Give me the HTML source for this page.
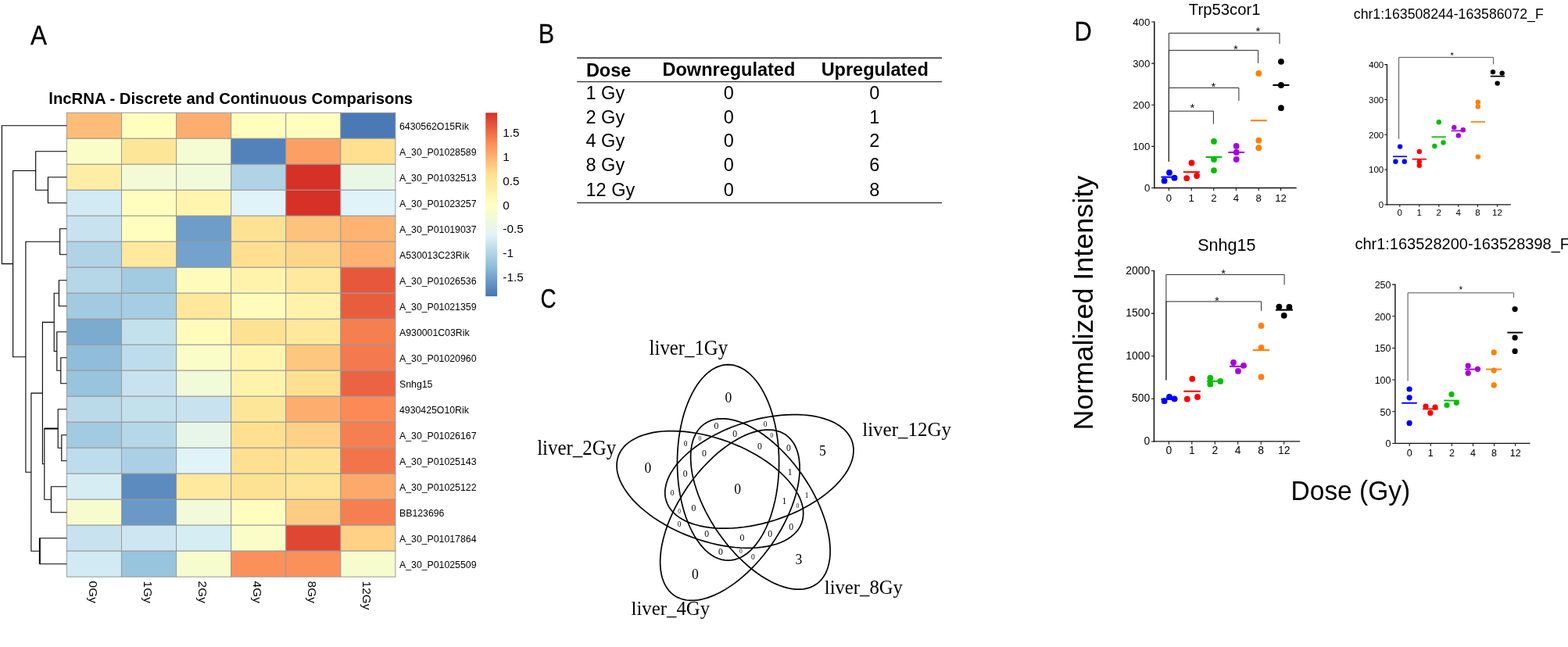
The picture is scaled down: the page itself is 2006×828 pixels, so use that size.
<!DOCTYPE html>
<html lang="en"><head><meta charset="utf-8"><title>lncRNA dose response figure</title>
<style>html,body{margin:0;padding:0;background:#fff;}body{width:2006px;height:828px;overflow:hidden;}svg{display:block;}text{fill:#000;}</style>
</head><body>
<svg width="2006" height="828" viewBox="0 0 2006 828">
<rect x="0" y="0" width="2006" height="828" fill="#ffffff"/>
<g id="panelA">
<text transform="translate(39.0,56.6) scale(0.91,1)" font-family='"Liberation Sans", Arial, Helvetica, sans-serif' font-size="34.6" stroke="#000" stroke-width="0.3" vector-effect="non-scaling-stroke">A</text>
<text x="295.2" y="132.7" text-anchor="middle" font-family='"Liberation Sans", Arial, Helvetica, sans-serif' font-weight="bold" font-size="20.3">lncRNA - Discrete and Continuous Comparisons</text>
<g stroke="#999999" stroke-width="1" shape-rendering="auto">
<rect x="85.40" y="144.30" width="70.08" height="32.99" fill="#fdbd79"/>
<rect x="155.48" y="144.30" width="70.08" height="32.99" fill="#fffebe"/>
<rect x="225.57" y="144.30" width="70.08" height="32.99" fill="#fdae6f"/>
<rect x="295.65" y="144.30" width="70.08" height="32.99" fill="#fffebe"/>
<rect x="365.73" y="144.30" width="70.08" height="32.99" fill="#fffebe"/>
<rect x="435.82" y="144.30" width="70.08" height="32.99" fill="#4a79b6"/>
<rect x="85.40" y="177.29" width="70.08" height="32.99" fill="#fafdc8"/>
<rect x="155.48" y="177.29" width="70.08" height="32.99" fill="#fee699"/>
<rect x="225.57" y="177.29" width="70.08" height="32.99" fill="#f5fbd2"/>
<rect x="295.65" y="177.29" width="70.08" height="32.99" fill="#5382bb"/>
<rect x="365.73" y="177.29" width="70.08" height="32.99" fill="#fc9f65"/>
<rect x="435.82" y="177.29" width="70.08" height="32.99" fill="#fee090"/>
<rect x="85.40" y="210.29" width="70.08" height="32.99" fill="#feeda4"/>
<rect x="155.48" y="210.29" width="70.08" height="32.99" fill="#f3fad5"/>
<rect x="225.57" y="210.29" width="70.08" height="32.99" fill="#f1fad9"/>
<rect x="295.65" y="210.29" width="70.08" height="32.99" fill="#b0d3e6"/>
<rect x="365.73" y="210.29" width="70.08" height="32.99" fill="#d73027"/>
<rect x="435.82" y="210.29" width="70.08" height="32.99" fill="#e9f7e7"/>
<rect x="85.40" y="243.28" width="70.08" height="32.99" fill="#d2eaf3"/>
<rect x="155.48" y="243.28" width="70.08" height="32.99" fill="#fffebe"/>
<rect x="225.57" y="243.28" width="70.08" height="32.99" fill="#fff5af"/>
<rect x="295.65" y="243.28" width="70.08" height="32.99" fill="#e0f3f8"/>
<rect x="365.73" y="243.28" width="70.08" height="32.99" fill="#d73027"/>
<rect x="435.82" y="243.28" width="70.08" height="32.99" fill="#e0f3f8"/>
<rect x="85.40" y="276.28" width="70.08" height="32.99" fill="#c8e3ef"/>
<rect x="155.48" y="276.28" width="70.08" height="32.99" fill="#fffebe"/>
<rect x="225.57" y="276.28" width="70.08" height="32.99" fill="#6e9dc9"/>
<rect x="295.65" y="276.28" width="70.08" height="32.99" fill="#fee293"/>
<rect x="365.73" y="276.28" width="70.08" height="32.99" fill="#fdc27c"/>
<rect x="435.82" y="276.28" width="70.08" height="32.99" fill="#fdb372"/>
<rect x="85.40" y="309.27" width="70.08" height="32.99" fill="#b0d3e6"/>
<rect x="155.48" y="309.27" width="70.08" height="32.99" fill="#fee99e"/>
<rect x="225.57" y="309.27" width="70.08" height="32.99" fill="#73a2cc"/>
<rect x="295.65" y="309.27" width="70.08" height="32.99" fill="#fee090"/>
<rect x="365.73" y="309.27" width="70.08" height="32.99" fill="#fed689"/>
<rect x="435.82" y="309.27" width="70.08" height="32.99" fill="#fdb372"/>
<rect x="85.40" y="342.27" width="70.08" height="32.99" fill="#b5d7e8"/>
<rect x="155.48" y="342.27" width="70.08" height="32.99" fill="#a2cae1"/>
<rect x="225.57" y="342.27" width="70.08" height="32.99" fill="#fffcbb"/>
<rect x="295.65" y="342.27" width="70.08" height="32.99" fill="#fff3ac"/>
<rect x="365.73" y="342.27" width="70.08" height="32.99" fill="#fee99e"/>
<rect x="435.82" y="342.27" width="70.08" height="32.99" fill="#e7573c"/>
<rect x="85.40" y="375.26" width="70.08" height="32.99" fill="#a2cae1"/>
<rect x="155.48" y="375.26" width="70.08" height="32.99" fill="#a7cde3"/>
<rect x="225.57" y="375.26" width="70.08" height="32.99" fill="#fee89b"/>
<rect x="295.65" y="375.26" width="70.08" height="32.99" fill="#fffcbb"/>
<rect x="365.73" y="375.26" width="70.08" height="32.99" fill="#fff3ac"/>
<rect x="435.82" y="375.26" width="70.08" height="32.99" fill="#e95d3f"/>
<rect x="85.40" y="408.26" width="70.08" height="32.99" fill="#7cabd0"/>
<rect x="155.48" y="408.26" width="70.08" height="32.99" fill="#c3e0ed"/>
<rect x="225.57" y="408.26" width="70.08" height="32.99" fill="#fffcbb"/>
<rect x="295.65" y="408.26" width="70.08" height="32.99" fill="#fee293"/>
<rect x="365.73" y="408.26" width="70.08" height="32.99" fill="#fee89b"/>
<rect x="435.82" y="408.26" width="70.08" height="32.99" fill="#f67f51"/>
<rect x="85.40" y="441.25" width="70.08" height="32.99" fill="#8fbdda"/>
<rect x="155.48" y="441.25" width="70.08" height="32.99" fill="#beddec"/>
<rect x="225.57" y="441.25" width="70.08" height="32.99" fill="#fafdc8"/>
<rect x="295.65" y="441.25" width="70.08" height="32.99" fill="#fff5af"/>
<rect x="365.73" y="441.25" width="70.08" height="32.99" fill="#fdc77f"/>
<rect x="435.82" y="441.25" width="70.08" height="32.99" fill="#f4794e"/>
<rect x="85.40" y="474.24" width="70.08" height="32.99" fill="#98c4de"/>
<rect x="155.48" y="474.24" width="70.08" height="32.99" fill="#c8e3ef"/>
<rect x="225.57" y="474.24" width="70.08" height="32.99" fill="#f1fad9"/>
<rect x="295.65" y="474.24" width="70.08" height="32.99" fill="#fff3ac"/>
<rect x="365.73" y="474.24" width="70.08" height="32.99" fill="#fee090"/>
<rect x="435.82" y="474.24" width="70.08" height="32.99" fill="#eb6342"/>
<rect x="85.40" y="507.24" width="70.08" height="32.99" fill="#badaea"/>
<rect x="155.48" y="507.24" width="70.08" height="32.99" fill="#c3e0ed"/>
<rect x="225.57" y="507.24" width="70.08" height="32.99" fill="#c8e3ef"/>
<rect x="295.65" y="507.24" width="70.08" height="32.99" fill="#fee699"/>
<rect x="365.73" y="507.24" width="70.08" height="32.99" fill="#fdae6f"/>
<rect x="435.82" y="507.24" width="70.08" height="32.99" fill="#fb8a57"/>
<rect x="85.40" y="540.23" width="70.08" height="32.99" fill="#a2cae1"/>
<rect x="155.48" y="540.23" width="70.08" height="32.99" fill="#b5d7e8"/>
<rect x="225.57" y="540.23" width="70.08" height="32.99" fill="#e8f6ea"/>
<rect x="295.65" y="540.23" width="70.08" height="32.99" fill="#fee090"/>
<rect x="365.73" y="540.23" width="70.08" height="32.99" fill="#fed186"/>
<rect x="435.82" y="540.23" width="70.08" height="32.99" fill="#f67f51"/>
<rect x="85.40" y="573.23" width="70.08" height="32.99" fill="#beddec"/>
<rect x="155.48" y="573.23" width="70.08" height="32.99" fill="#abd0e5"/>
<rect x="225.57" y="573.23" width="70.08" height="32.99" fill="#e0f3f8"/>
<rect x="295.65" y="573.23" width="70.08" height="32.99" fill="#fee090"/>
<rect x="365.73" y="573.23" width="70.08" height="32.99" fill="#fee293"/>
<rect x="435.82" y="573.23" width="70.08" height="32.99" fill="#f2744b"/>
<rect x="85.40" y="606.22" width="70.08" height="32.99" fill="#d6edf4"/>
<rect x="155.48" y="606.22" width="70.08" height="32.99" fill="#5c8bc0"/>
<rect x="225.57" y="606.22" width="70.08" height="32.99" fill="#fee99e"/>
<rect x="295.65" y="606.22" width="70.08" height="32.99" fill="#fee293"/>
<rect x="365.73" y="606.22" width="70.08" height="32.99" fill="#fee496"/>
<rect x="435.82" y="606.22" width="70.08" height="32.99" fill="#fda96b"/>
<rect x="85.40" y="639.22" width="70.08" height="32.99" fill="#f7fccf"/>
<rect x="155.48" y="639.22" width="70.08" height="32.99" fill="#6a99c7"/>
<rect x="225.57" y="639.22" width="70.08" height="32.99" fill="#f1fad9"/>
<rect x="295.65" y="639.22" width="70.08" height="32.99" fill="#fffebe"/>
<rect x="365.73" y="639.22" width="70.08" height="32.99" fill="#fecc83"/>
<rect x="435.82" y="639.22" width="70.08" height="32.99" fill="#f67f51"/>
<rect x="85.40" y="672.21" width="70.08" height="32.99" fill="#c8e3ef"/>
<rect x="155.48" y="672.21" width="70.08" height="32.99" fill="#cde6f1"/>
<rect x="225.57" y="672.21" width="70.08" height="32.99" fill="#d6edf4"/>
<rect x="295.65" y="672.21" width="70.08" height="32.99" fill="#fafdc8"/>
<rect x="365.73" y="672.21" width="70.08" height="32.99" fill="#e04733"/>
<rect x="435.82" y="672.21" width="70.08" height="32.99" fill="#fed186"/>
<rect x="85.40" y="705.21" width="70.08" height="32.99" fill="#d2eaf3"/>
<rect x="155.48" y="705.21" width="70.08" height="32.99" fill="#98c4de"/>
<rect x="225.57" y="705.21" width="70.08" height="32.99" fill="#f7fccf"/>
<rect x="295.65" y="705.21" width="70.08" height="32.99" fill="#fc905b"/>
<rect x="365.73" y="705.21" width="70.08" height="32.99" fill="#fc905b"/>
<rect x="435.82" y="705.21" width="70.08" height="32.99" fill="#f7fccf"/>
</g>
<g font-family='"Liberation Sans", Arial, Helvetica, sans-serif' font-size="12.3" fill="#000">
<text x="511.0" y="166.00">6430562O15Rik</text>
<text x="511.0" y="198.99">A_30_P01028589</text>
<text x="511.0" y="231.99">A_30_P01032513</text>
<text x="511.0" y="264.98">A_30_P01023257</text>
<text x="511.0" y="297.98">A_30_P01019037</text>
<text x="511.0" y="330.97">A530013C23Rik</text>
<text x="511.0" y="363.96">A_30_P01026536</text>
<text x="511.0" y="396.96">A_30_P01021359</text>
<text x="511.0" y="429.95">A930001C03Rik</text>
<text x="511.0" y="462.95">A_30_P01020960</text>
<text x="511.0" y="495.94">Snhg15</text>
<text x="511.0" y="528.94">4930425O10Rik</text>
<text x="511.0" y="561.93">A_30_P01026167</text>
<text x="511.0" y="594.93">A_30_P01025143</text>
<text x="511.0" y="627.92">A_30_P01025122</text>
<text x="511.0" y="660.91">BB123696</text>
<text x="511.0" y="693.91">A_30_P01017864</text>
<text x="511.0" y="726.90">A_30_P01025509</text>
</g>
<g font-family='"Liberation Sans", Arial, Helvetica, sans-serif' font-size="15.4" fill="#000">
<text transform="translate(113.74,743.6) rotate(90)">0Gy</text>
<text transform="translate(183.83,743.6) rotate(90)">1Gy</text>
<text transform="translate(253.91,743.6) rotate(90)">2Gy</text>
<text transform="translate(323.99,743.6) rotate(90)">4Gy</text>
<text transform="translate(394.07,743.6) rotate(90)">8Gy</text>
<text transform="translate(464.16,743.6) rotate(90)">12Gy</text>
</g>
<defs><linearGradient id="lg" x1="0" y1="0" x2="0" y2="1">
<stop offset="0.0000" stop-color="#D73027"/>
<stop offset="0.1667" stop-color="#FC8D59"/>
<stop offset="0.3333" stop-color="#FEE090"/>
<stop offset="0.5000" stop-color="#FFFFBF"/>
<stop offset="0.6667" stop-color="#E0F3F8"/>
<stop offset="0.8333" stop-color="#91BFDB"/>
<stop offset="1.0000" stop-color="#4575B4"/>
</linearGradient></defs>
<rect x="621.2" y="144.3" width="14.90" height="234.90" fill="url(#lg)"/>
<g font-family='"Liberation Sans", Arial, Helvetica, sans-serif' font-size="15.3" fill="#000">
<text x="643.3" y="175.40">1.5</text>
<text x="643.3" y="206.15">1</text>
<text x="643.3" y="236.90">0.5</text>
<text x="643.3" y="267.65">0</text>
<text x="643.3" y="298.40">-0.5</text>
<text x="643.3" y="329.15">-1</text>
<text x="643.3" y="359.90">-1.5</text>
</g>
<path d="M85.4 226.8H61.4V259.8H85.4M85.4 193.8H45.7V243.3H61.4M85.4 292.8H76.6V325.8H85.4M85.4 358.8H75.4V391.8H85.4M85.4 457.7H77.8V490.7H85.4M85.4 424.8H72.8V474.2H77.8M75.4 375.3H69.2V449.5H72.8M85.4 556.7H78.8V589.7H85.4M85.4 523.7H74.2V573.2H78.8M85.4 622.7H65.4V655.7H85.4M74.2 548.5H56.8V639.2H65.4M69.2 412.4H54.4V593.8H56.8M85.4 688.7H50.8V721.7H85.4M54.4 503.1H39.9V705.2H50.8M76.6 309.3H32.9V604.2H39.9M45.7 218.5H16.6V456.7H32.9M85.4 160.8H2.4V337.6H16.6" fill="none" stroke="#000" stroke-width="1.1"/>
<path d="M56.8 548.5H74.2M50.8 688.7V721.7" fill="none" stroke="#000" stroke-width="1.9"/>
</g>
<g id="panelB">
<text transform="translate(688.8,54.9) scale(0.88,1)" font-family='"Liberation Sans", Arial, Helvetica, sans-serif' font-size="34.6" stroke="#000" stroke-width="0.3" vector-effect="non-scaling-stroke">B</text>
<g stroke="#000" fill="none">
<line x1="738.1" y1="74.1" x2="1205" y2="74.1" stroke-width="1.3"/>
<line x1="738.1" y1="104.7" x2="1205" y2="104.7" stroke-width="1"/>
<line x1="738.1" y1="259.6" x2="1205" y2="259.6" stroke-width="1"/>
</g>
<g font-family='"Liberation Sans", Arial, Helvetica, sans-serif' font-size="23.5" font-weight="bold">
<text x="749.9" y="97.6">Dose</text>
<text x="932.4" y="97.2" text-anchor="middle">Downregulated</text>
<text x="1119.2" y="97.2" text-anchor="middle">Upregulated</text>
</g>
<g font-family='"Liberation Sans", Arial, Helvetica, sans-serif' font-size="23.5">
<text x="749.5" y="126.8">1 Gy</text>
<text x="932.2" y="126.8" text-anchor="middle">0</text>
<text x="1118.8" y="126.8" text-anchor="middle">0</text>
<text x="749.5" y="157.7">2 Gy</text>
<text x="932.2" y="157.7" text-anchor="middle">0</text>
<text x="1118.8" y="157.7" text-anchor="middle">1</text>
<text x="749.5" y="187.7">4 Gy</text>
<text x="932.2" y="187.7" text-anchor="middle">0</text>
<text x="1118.8" y="187.7" text-anchor="middle">2</text>
<text x="749.5" y="218.7">8 Gy</text>
<text x="932.2" y="218.7" text-anchor="middle">0</text>
<text x="1118.8" y="218.7" text-anchor="middle">6</text>
<text x="749.5" y="250.6">12 Gy</text>
<text x="932.2" y="250.6" text-anchor="middle">0</text>
<text x="1118.8" y="250.6" text-anchor="middle">8</text>
</g></g>
<g id="panelC">
<text transform="translate(691.4,394.0) scale(0.8,1)" font-family='"Liberation Sans", Arial, Helvetica, sans-serif' font-size="34.6" stroke="#000" stroke-width="0.3" vector-effect="non-scaling-stroke">C</text>
<g fill="none" stroke="#000" stroke-width="1.7" stroke-linejoin="round">
<polygon points="996.6,591.9 996.5,583.7 996.1,575.6 995.4,567.5 994.4,559.5 993.2,551.7 991.7,544.0 989.9,536.5 987.9,529.3 985.7,522.3 983.2,515.7 980.5,509.3 977.6,503.4 974.5,497.8 971.2,492.6 967.7,487.8 964.1,483.5 960.3,479.6 956.5,476.2 952.5,473.3 948.4,470.9 944.2,469.1 940.0,467.7 935.8,466.9 931.5,466.7 927.3,466.9 923.0,467.7 918.8,469.1 914.7,470.9 910.6,473.3 906.6,476.2 902.7,479.6 899.0,483.5 895.4,487.8 891.9,492.6 888.6,497.8 885.5,503.4 882.6,509.3 879.9,515.7 877.4,522.3 875.1,529.3 873.1,536.5 871.4,544.0 869.9,551.7 868.6,559.5 867.7,567.5 867.0,575.6 866.6,583.7 866.4,591.9 866.6,600.1 867.0,608.3 867.7,616.4 868.6,624.4 869.9,632.2 871.4,639.9 873.1,647.3 875.1,654.6 877.4,661.5 879.9,668.2 882.6,674.5 885.5,680.5 888.6,686.1 891.9,691.3 895.4,696.1 899.0,700.4 902.7,704.3 906.6,707.7 910.6,710.5 914.7,712.9 918.8,714.8 923.0,716.1 927.3,716.9 931.5,717.2 935.8,716.9 940.0,716.1 944.2,714.8 948.4,712.9 952.5,710.5 956.5,707.7 960.3,704.3 964.1,700.4 967.7,696.1 971.2,691.3 974.5,686.1 977.6,680.5 980.5,674.5 983.2,668.2 985.7,661.5 987.9,654.6 989.9,647.3 991.7,639.9 993.2,632.2 994.4,624.4 995.4,616.4 996.1,608.3 996.5,600.1"/>
<polygon points="886.1,687.8 893.8,690.5 901.6,692.9 909.4,695.0 917.2,696.8 925.0,698.4 932.7,699.6 940.2,700.5 947.7,701.0 955.0,701.3 962.1,701.2 968.9,700.9 975.5,700.2 981.8,699.1 987.8,697.8 993.5,696.2 998.8,694.2 1003.7,692.0 1008.2,689.5 1012.2,686.7 1015.9,683.7 1019.0,680.4 1021.7,676.9 1023.9,673.2 1025.6,669.3 1026.8,665.2 1027.5,660.9 1027.7,656.5 1027.4,651.9 1026.6,647.3 1025.2,642.5 1023.4,637.7 1021.0,632.8 1018.2,627.9 1014.9,623.0 1011.2,618.2 1007.0,613.3 1002.4,608.5 997.4,603.8 992.0,599.2 986.3,594.7 980.2,590.3 973.8,586.1 967.1,582.1 960.2,578.2 953.1,574.6 945.7,571.1 938.2,568.0 930.6,565.0 922.9,562.4 915.1,560.0 907.3,557.8 899.5,556.0 891.7,554.5 884.0,553.3 876.5,552.4 869.0,551.8 861.7,551.6 854.6,551.6 847.8,552.0 841.2,552.7 834.9,553.7 828.9,555.1 823.2,556.7 817.9,558.6 813.0,560.9 808.5,563.4 804.5,566.1 800.8,569.2 797.7,572.4 795.0,575.9 792.8,579.7 791.1,583.6 789.9,587.7 789.2,592.0 789.0,596.4 789.3,600.9 790.1,605.6 791.5,610.4 793.3,615.2 795.7,620.0 798.5,624.9 801.8,629.8 805.5,634.7 809.7,639.6 814.3,644.4 819.3,649.1 824.7,653.7 830.4,658.2 836.5,662.6 842.9,666.8 849.6,670.8 856.5,674.7 863.6,678.3 871.0,681.7 878.5,684.9"/>
<polygon points="880.5,621.7 876.0,628.5 871.7,635.5 867.6,642.5 863.8,649.6 860.4,656.7 857.2,663.9 854.4,671.0 851.9,678.1 849.8,685.1 848.0,692.0 846.6,698.7 845.5,705.3 844.9,711.7 844.6,717.8 844.7,723.7 845.2,729.3 846.1,734.7 847.3,739.7 849.0,744.3 850.9,748.6 853.3,752.5 855.9,756.1 859.0,759.2 862.3,761.8 865.9,764.1 869.9,765.8 874.1,767.2 878.5,768.0 883.2,768.4 888.2,768.4 893.3,767.8 898.6,766.8 904.0,765.4 909.6,763.4 915.2,761.1 921.0,758.3 926.8,755.1 932.6,751.4 938.5,747.4 944.3,743.0 950.1,738.2 955.8,733.1 961.4,727.7 966.9,722.0 972.2,716.0 977.4,709.8 982.4,703.3 987.2,696.7 991.8,689.9 996.1,683.0 1000.2,676.0 1003.9,668.9 1007.4,661.7 1010.5,654.6 1013.4,647.5 1015.9,640.4 1018.0,633.4 1019.8,626.5 1021.2,619.8 1022.2,613.2 1022.9,606.8 1023.1,600.6 1023.0,594.7 1022.5,589.1 1021.7,583.8 1020.4,578.8 1018.8,574.1 1016.8,569.8 1014.5,565.9 1011.8,562.4 1008.8,559.3 1005.5,556.6 1001.8,554.4 997.9,552.6 993.7,551.3 989.2,550.4 984.5,550.0 979.6,550.1 974.5,550.6 969.2,551.6 963.8,553.1 958.2,555.0 952.5,557.4 946.8,560.2 941.0,563.4 935.1,567.0 929.3,571.1 923.5,575.5 917.7,580.2 912.0,585.3 906.4,590.8 900.9,596.5 895.5,602.4 890.3,608.7 885.3,615.1"/>
<polygon points="1026.2,607.5 1021.4,600.9 1016.4,594.4 1011.2,588.2 1005.8,582.2 1000.3,576.5 994.7,571.1 989.0,566.0 983.2,561.2 977.4,556.8 971.6,552.8 965.7,549.2 959.9,545.9 954.2,543.1 948.5,540.8 943.0,538.9 937.5,537.4 932.2,536.4 927.1,535.9 922.2,535.8 917.5,536.2 913.0,537.0 908.8,538.4 904.9,540.2 901.3,542.4 897.9,545.1 894.9,548.2 892.2,551.7 889.9,555.6 887.9,559.9 886.3,564.5 885.0,569.5 884.2,574.9 883.7,580.5 883.6,586.4 883.9,592.6 884.5,598.9 885.5,605.5 886.9,612.3 888.7,619.2 890.9,626.2 893.3,633.2 896.2,640.4 899.3,647.5 902.8,654.6 906.6,661.7 910.6,668.8 914.9,675.7 919.5,682.5 924.3,689.1 929.3,695.6 934.5,701.8 939.8,707.8 945.3,713.5 951.0,718.9 956.7,724.0 962.4,728.8 968.3,733.2 974.1,737.2 979.9,740.8 985.7,744.1 991.5,746.9 997.2,749.2 1002.7,751.1 1008.2,752.6 1013.4,753.6 1018.6,754.1 1023.5,754.2 1028.2,753.8 1032.6,752.9 1036.8,751.6 1040.8,749.8 1044.4,747.6 1047.8,744.9 1050.8,741.8 1053.5,738.3 1055.8,734.4 1057.8,730.1 1059.4,725.4 1060.6,720.4 1061.5,715.1 1062.0,709.5 1062.1,703.6 1061.8,697.4 1061.2,691.0 1060.1,684.5 1058.7,677.7 1057.0,670.8 1054.8,663.8 1052.3,656.8 1049.5,649.6 1046.4,642.5 1042.9,635.3 1039.1,628.2 1035.1,621.2 1030.7,614.3"/>
<polygon points="991.0,665.7 998.7,663.1 1006.3,660.3 1013.8,657.2 1021.1,653.9 1028.2,650.3 1035.0,646.6 1041.6,642.6 1047.9,638.6 1053.8,634.3 1059.4,629.9 1064.6,625.4 1069.4,620.8 1073.8,616.2 1077.7,611.5 1081.2,606.7 1084.3,602.0 1086.8,597.2 1088.8,592.5 1090.4,587.8 1091.4,583.2 1091.9,578.6 1092.0,574.2 1091.4,569.9 1090.4,565.7 1088.9,561.7 1086.8,557.9 1084.3,554.3 1081.3,550.9 1077.8,547.7 1073.9,544.8 1069.5,542.1 1064.7,539.6 1059.5,537.5 1053.9,535.6 1048.0,534.0 1041.7,532.7 1035.1,531.7 1028.3,531.0 1021.2,530.7 1013.9,530.6 1006.5,530.8 998.9,531.4 991.1,532.3 983.3,533.5 975.4,534.9 967.5,536.7 959.6,538.7 951.8,541.1 944.1,543.7 936.4,546.5 929.0,549.6 921.7,553.0 914.6,556.5 907.8,560.2 901.2,564.2 894.9,568.3 889.0,572.5 883.4,576.9 878.2,581.4 873.4,586.0 869.0,590.6 865.0,595.3 861.6,600.1 858.5,604.9 856.0,609.6 853.9,614.4 852.4,619.0 851.4,623.7 850.8,628.2 850.8,632.6 851.3,636.9 852.4,641.1 853.9,645.1 855.9,648.9 858.5,652.5 861.5,655.9 865.0,659.1 868.9,662.1 873.3,664.8 878.1,667.2 883.3,669.4 888.9,671.2 894.8,672.8 901.1,674.1 907.6,675.1 914.5,675.8 921.5,676.2 928.8,676.2 936.3,676.0 943.9,675.4 951.7,674.5 959.5,673.4 967.4,671.9 975.3,670.1 983.1,668.1"/>
</g>
<g font-family='"Liberation Serif", "Times New Roman", Times, serif' fill="#000">
<text transform="translate(830.6,453.8) scale(0.8989,1)" font-size="27.6">liver_1Gy</text>
<text transform="translate(687.2,582.0) scale(0.9364,1)" font-size="26.6">liver_2Gy</text>
<text transform="translate(1103.2,557.7) scale(0.9626,1)" font-size="26.0">liver_12Gy</text>
<text transform="translate(807.5,786.8) scale(0.9943,1)" font-size="25.0">liver_4Gy</text>
<text transform="translate(1054.8,759.8) scale(0.9652,1)" font-size="25.6">liver_8Gy</text>
</g>
<g font-family='"Liberation Serif", "Times New Roman", Times, serif' text-anchor="middle" fill="#000">
<text transform="translate(931.8,514.5) scale(0.9,1)" font-size="19.50">0</text>
<text transform="translate(828.8,604.5) scale(0.9,1)" font-size="19.50">0</text>
<text transform="translate(889.4,741.0) scale(0.9,1)" font-size="19.50">0</text>
<text transform="translate(1022.0,722.2) scale(0.9,1)" font-size="19.50">3</text>
<text transform="translate(1052.4,582.7) scale(0.9,1)" font-size="19.50">5</text>
<text transform="translate(943.7,631.9) scale(0.9,1)" font-size="19.50">0</text>
<text transform="translate(916.5,549.2) scale(0.9,1)" font-size="13.00">0</text>
<text transform="translate(979.0,545.8) scale(0.9,1)" font-size="10.40">0</text>
<text transform="translate(940.2,558.7) scale(0.9,1)" font-size="13.00">0</text>
<text transform="translate(895.4,563.6) scale(0.9,1)" font-size="8.32">0</text>
<text transform="translate(987.3,560.4) scale(0.9,1)" font-size="8.32">0</text>
<text transform="translate(877.1,570.6) scale(0.9,1)" font-size="10.40">0</text>
<text transform="translate(972.0,575.2) scale(0.9,1)" font-size="13.00">0</text>
<text transform="translate(1008.9,576.9) scale(0.9,1)" font-size="13.00">0</text>
<text transform="translate(900.9,584.3) scale(0.9,1)" font-size="13.00">0</text>
<text transform="translate(876.8,610.1) scale(0.9,1)" font-size="13.00">0</text>
<text transform="translate(1010.7,607.8) scale(0.9,1)" font-size="13.00">1</text>
<text transform="translate(860.0,634.3) scale(0.9,1)" font-size="10.40">0</text>
<text transform="translate(1032.0,636.8) scale(0.9,1)" font-size="10.40">1</text>
<text transform="translate(1003.4,644.7) scale(0.9,1)" font-size="13.00">1</text>
<text transform="translate(887.4,654.3) scale(0.9,1)" font-size="13.00">0</text>
<text transform="translate(1020.4,650.1) scale(0.9,1)" font-size="8.32">0</text>
<text transform="translate(869.0,656.7) scale(0.9,1)" font-size="8.32">0</text>
<text transform="translate(869.0,674.3) scale(0.9,1)" font-size="10.40">0</text>
<text transform="translate(1012.1,678.2) scale(0.9,1)" font-size="13.00">0</text>
<text transform="translate(904.1,686.7) scale(0.9,1)" font-size="13.00">0</text>
<text transform="translate(985.3,686.7) scale(0.9,1)" font-size="13.00">0</text>
<text transform="translate(949.5,691.7) scale(0.9,1)" font-size="13.00">0</text>
<text transform="translate(921.9,710.0) scale(0.9,1)" font-size="13.00">0</text>
<text transform="translate(947.9,708.4) scale(0.9,1)" font-size="8.32">0</text>
<text transform="translate(963.3,715.9) scale(0.9,1)" font-size="10.40">0</text>
</g>
</g>
<g id="panelD">
<text transform="translate(1374.5,52.0) scale(0.89,1)" font-family='"Liberation Sans", Arial, Helvetica, sans-serif' font-size="34.6" stroke="#000" stroke-width="0.3" vector-effect="non-scaling-stroke">D</text>
<g>
<text x="1566.7" y="19.2" text-anchor="middle" font-family='"Liberation Sans", Arial, Helvetica, sans-serif' font-size="20.3">Trp53cor1</text>
<path d="M1476.8 27.50V241.16" fill="none" stroke="#111" stroke-width="1.5"/>
<path d="M1476.05 240.5H1658.7" fill="none" stroke="#111" stroke-width="1.32"/>
<path d="M1473.20 240.50H1476.8M1473.20 187.38H1476.8M1473.20 134.25H1476.8M1473.20 81.12H1476.8M1473.20 28.00H1476.8M1495.4 240.5V244.30M1524.2 240.5V244.30M1552.8 240.5V244.30M1581.4 240.5V244.30M1610.2 240.5V244.30M1638.6 240.5V244.30" fill="none" stroke="#111" stroke-width="1.05"/>
<g font-family='"Liberation Sans", Arial, Helvetica, sans-serif' font-size="13.2" fill="#000">
<text x="1471.3" y="245.33" text-anchor="end">0</text>
<text x="1471.3" y="192.20" text-anchor="end">100</text>
<text x="1471.3" y="139.08" text-anchor="end">200</text>
<text x="1471.3" y="85.95" text-anchor="end">300</text>
<text x="1471.3" y="32.83" text-anchor="end">400</text>
<text x="1495.4" y="257.8" text-anchor="middle">0</text>
<text x="1524.2" y="257.8" text-anchor="middle">1</text>
<text x="1552.8" y="257.8" text-anchor="middle">2</text>
<text x="1581.4" y="257.8" text-anchor="middle">4</text>
<text x="1610.2" y="257.8" text-anchor="middle">8</text>
<text x="1638.6" y="257.8" text-anchor="middle">12</text>
</g>
<path d="M1495.4 206.6V42.4H1637.0V56.2" fill="none" stroke="#2a2a2a" stroke-width="1.0"/>
<text x="1609.4" y="45.00" text-anchor="middle" font-family='"Liberation Sans", Arial, Helvetica, sans-serif' font-size="15">*</text>
<path d="M1495.4 206.6V64.4H1609.6V80.9" fill="none" stroke="#2a2a2a" stroke-width="1.0"/>
<text x="1580.8" y="67.90" text-anchor="middle" font-family='"Liberation Sans", Arial, Helvetica, sans-serif' font-size="15">*</text>
<path d="M1495.4 206.6V112.4H1584.9V129.0" fill="none" stroke="#2a2a2a" stroke-width="1.0"/>
<text x="1552.5" y="115.80" text-anchor="middle" font-family='"Liberation Sans", Arial, Helvetica, sans-serif' font-size="15">*</text>
<path d="M1495.4 206.6V142.2H1552.4V158.7" fill="none" stroke="#2a2a2a" stroke-width="1.0"/>
<text x="1525.4" y="143.30" text-anchor="middle" font-family='"Liberation Sans", Arial, Helvetica, sans-serif' font-size="15">*</text>
<g fill="#0000ff" stroke="none">
<circle cx="1496.0" cy="220.9" r="3.9"/>
<circle cx="1502.5" cy="227.7" r="3.9"/>
<circle cx="1489.6" cy="231.4" r="3.9"/>
<rect x="1485.4" y="225.55" width="20.70" height="2.1"/>
</g>
<g fill="#ff0000" stroke="none">
<circle cx="1524.5" cy="208.5" r="3.9"/>
<circle cx="1531.1" cy="225.0" r="3.9"/>
<circle cx="1518.2" cy="228.1" r="3.9"/>
<rect x="1513.9" y="219.15" width="20.90" height="2.1"/>
</g>
<g fill="#00c000" stroke="none">
<circle cx="1553.0" cy="180.9" r="3.9"/>
<circle cx="1553.0" cy="204.1" r="3.9"/>
<circle cx="1553.0" cy="218.1" r="3.9"/>
<rect x="1542.6" y="199.95" width="20.70" height="2.1"/>
</g>
<g fill="#a800e0" stroke="none">
<circle cx="1581.7" cy="186.9" r="3.9"/>
<circle cx="1581.7" cy="195.0" r="3.9"/>
<circle cx="1581.7" cy="204.0" r="3.9"/>
<rect x="1571.4" y="193.95" width="20.60" height="2.1"/>
</g>
<g fill="#ff8000" stroke="none">
<circle cx="1610.3" cy="93.9" r="3.9"/>
<circle cx="1610.3" cy="179.7" r="3.9"/>
<circle cx="1610.3" cy="189.2" r="3.9"/>
<rect x="1600.0" y="153.15" width="20.70" height="2.1"/>
</g>
<g fill="#000000" stroke="none">
<circle cx="1638.9" cy="78.8" r="3.9"/>
<circle cx="1638.9" cy="109.0" r="3.9"/>
<circle cx="1638.9" cy="138.2" r="3.9"/>
<rect x="1628.4" y="107.85" width="21.00" height="2.1"/>
</g>
</g>
<g>
<text x="1731.8" y="24.0" text-anchor="start" font-family='"Liberation Sans", Arial, Helvetica, sans-serif' font-size="17.7">chr1:163508244-163586072_F</text>
<path d="M1774.4 82.10V262.47" fill="none" stroke="#111" stroke-width="1.3"/>
<path d="M1773.75 261.9H1932.9" fill="none" stroke="#111" stroke-width="1.14"/>
<path d="M1771.30 261.90H1774.4M1771.30 217.07H1774.4M1771.30 172.25H1774.4M1771.30 127.42H1774.4M1771.30 82.60H1774.4M1790.8 261.9V264.80M1815.8 261.9V264.80M1840.8 261.9V264.80M1865.7 261.9V264.80M1890.5 261.9V264.80M1915.5 261.9V264.80" fill="none" stroke="#111" stroke-width="1.05"/>
<g font-family='"Liberation Sans", Arial, Helvetica, sans-serif' font-size="11.5" fill="#000">
<text x="1770.2" y="266.27" text-anchor="end">0</text>
<text x="1770.2" y="221.44" text-anchor="end">100</text>
<text x="1770.2" y="176.62" text-anchor="end">200</text>
<text x="1770.2" y="131.79" text-anchor="end">300</text>
<text x="1770.2" y="86.97" text-anchor="end">400</text>
<text x="1790.8" y="276.0" text-anchor="middle">0</text>
<text x="1815.8" y="276.0" text-anchor="middle">1</text>
<text x="1840.8" y="276.0" text-anchor="middle">2</text>
<text x="1865.7" y="276.0" text-anchor="middle">4</text>
<text x="1890.5" y="276.0" text-anchor="middle">8</text>
<text x="1915.5" y="276.0" text-anchor="middle">12</text>
</g>
<path d="M1789.6 177.9V73.4H1910.6V82.4" fill="none" stroke="#4a4a4a" stroke-width="0.95"/>
<text x="1857.6" y="75.32" text-anchor="middle" font-family='"Liberation Sans", Arial, Helvetica, sans-serif' font-size="11">*</text>
<g fill="#0000ff" stroke="none">
<circle cx="1791.1" cy="187.6" r="3.2"/>
<circle cx="1785.4" cy="206.8" r="3.2"/>
<circle cx="1796.8" cy="206.8" r="3.2"/>
<rect x="1782.1" y="199.45" width="18.00" height="1.7"/>
</g>
<g fill="#ff0000" stroke="none">
<circle cx="1815.8" cy="193.9" r="3.2"/>
<circle cx="1815.8" cy="207.0" r="3.2"/>
<circle cx="1815.8" cy="211.8" r="3.2"/>
<rect x="1806.6" y="202.85" width="18.30" height="1.7"/>
</g>
<g fill="#00c000" stroke="none">
<circle cx="1840.8" cy="156.2" r="3.2"/>
<circle cx="1846.5" cy="182.5" r="3.2"/>
<circle cx="1835.3" cy="187.0" r="3.2"/>
<rect x="1831.5" y="174.45" width="18.30" height="1.7"/>
</g>
<g fill="#a800e0" stroke="none">
<circle cx="1860.3" cy="163.1" r="3.2"/>
<circle cx="1871.8" cy="166.2" r="3.2"/>
<circle cx="1865.8" cy="173.4" r="3.2"/>
<rect x="1856.7" y="166.55" width="18.20" height="1.7"/>
</g>
<g fill="#ff8000" stroke="none">
<circle cx="1890.8" cy="130.7" r="3.2"/>
<circle cx="1890.8" cy="136.4" r="3.2"/>
<circle cx="1890.8" cy="200.6" r="3.2"/>
<rect x="1881.7" y="155.15" width="18.30" height="1.7"/>
</g>
<g fill="#000000" stroke="none">
<circle cx="1910.0" cy="92.1" r="3.2"/>
<circle cx="1921.7" cy="93.6" r="3.2"/>
<circle cx="1915.7" cy="106.6" r="3.2"/>
<rect x="1906.7" y="96.75" width="18.30" height="1.7"/>
</g>
</g>
<g>
<text x="1569.3" y="321.0" text-anchor="middle" font-family='"Liberation Sans", Arial, Helvetica, sans-serif' font-size="21.5">Snhg15</text>
<path d="M1476.4 346.00V565.56" fill="none" stroke="#111" stroke-width="1.5"/>
<path d="M1475.65 564.9H1663.2" fill="none" stroke="#111" stroke-width="1.32"/>
<path d="M1472.80 564.90H1476.4M1472.80 510.30H1476.4M1472.80 455.70H1476.4M1472.80 401.10H1476.4M1472.80 346.50H1476.4M1495.4 564.9V568.80M1524.8 564.9V568.80M1554.3 564.9V568.80M1583.7 564.9V568.80M1613.2 564.9V568.80M1642.7 564.9V568.80" fill="none" stroke="#111" stroke-width="1.05"/>
<g font-family='"Liberation Sans", Arial, Helvetica, sans-serif' font-size="13.9" fill="#000">
<text x="1471.2" y="568.93" text-anchor="end">0</text>
<text x="1471.2" y="514.33" text-anchor="end">500</text>
<text x="1471.2" y="459.73" text-anchor="end">1000</text>
<text x="1471.2" y="405.13" text-anchor="end">1500</text>
<text x="1471.2" y="350.53" text-anchor="end">2000</text>
<text x="1495.4" y="581.3" text-anchor="middle">0</text>
<text x="1524.8" y="581.3" text-anchor="middle">1</text>
<text x="1554.3" y="581.3" text-anchor="middle">2</text>
<text x="1583.7" y="581.3" text-anchor="middle">4</text>
<text x="1613.2" y="581.3" text-anchor="middle">8</text>
<text x="1642.7" y="581.3" text-anchor="middle">12</text>
</g>
<path d="M1491.9 486.4V351.4H1643.1V364.4" fill="none" stroke="#2a2a2a" stroke-width="1.0"/>
<text x="1565.1" y="354.80" text-anchor="middle" font-family='"Liberation Sans", Arial, Helvetica, sans-serif' font-size="15">*</text>
<path d="M1491.9 486.4V385.9H1613.6V397.8" fill="none" stroke="#2a2a2a" stroke-width="1.0"/>
<text x="1557.0" y="389.70" text-anchor="middle" font-family='"Liberation Sans", Arial, Helvetica, sans-serif' font-size="15">*</text>
<g fill="#0000ff" stroke="none">
<circle cx="1496.0" cy="508.0" r="3.9"/>
<circle cx="1502.5" cy="510.4" r="3.9"/>
<circle cx="1489.6" cy="513.2" r="3.9"/>
<rect x="1485.4" y="509.65" width="21.00" height="2.1"/>
</g>
<g fill="#ff0000" stroke="none">
<circle cx="1525.3" cy="484.8" r="3.9"/>
<circle cx="1532.0" cy="508.0" r="3.9"/>
<circle cx="1518.8" cy="510.7" r="3.9"/>
<rect x="1514.3" y="499.75" width="21.60" height="2.1"/>
</g>
<g fill="#00c000" stroke="none">
<circle cx="1548.3" cy="483.7" r="3.9"/>
<circle cx="1548.3" cy="491.7" r="3.9"/>
<circle cx="1561.3" cy="487.9" r="3.9"/>
<rect x="1544.1" y="486.85" width="20.70" height="2.1"/>
</g>
<g fill="#a800e0" stroke="none">
<circle cx="1578.0" cy="464.0" r="3.9"/>
<circle cx="1591.0" cy="467.8" r="3.9"/>
<circle cx="1584.0" cy="474.9" r="3.9"/>
<rect x="1573.0" y="467.85" width="21.70" height="2.1"/>
</g>
<g fill="#ff8000" stroke="none">
<circle cx="1613.5" cy="416.9" r="3.9"/>
<circle cx="1613.5" cy="444.9" r="3.9"/>
<circle cx="1613.5" cy="482.4" r="3.9"/>
<rect x="1602.7" y="447.05" width="21.50" height="2.1"/>
</g>
<g fill="#000000" stroke="none">
<circle cx="1636.4" cy="392.6" r="3.9"/>
<circle cx="1649.4" cy="393.0" r="3.9"/>
<circle cx="1642.7" cy="403.8" r="3.9"/>
<rect x="1631.9" y="395.55" width="22.00" height="2.1"/>
</g>
</g>
<g>
<text x="1733.4" y="318.8" text-anchor="start" font-family='"Liberation Sans", Arial, Helvetica, sans-serif' font-size="20">chr1:163528200-163528398_F</text>
<path d="M1784.9 363.60V568.02" fill="none" stroke="#111" stroke-width="1.4"/>
<path d="M1784.20 567.4H1957.6" fill="none" stroke="#111" stroke-width="1.23"/>
<path d="M1781.20 567.40H1784.9M1781.20 526.74H1784.9M1781.20 486.08H1784.9M1781.20 445.42H1784.9M1781.20 404.76H1784.9M1781.20 364.10H1784.9M1803.2 567.4V571.00M1830.3 567.4V571.00M1857.4 567.4V571.00M1884.5 567.4V571.00M1911.6 567.4V571.00M1938.7 567.4V571.00" fill="none" stroke="#111" stroke-width="1.05"/>
<g font-family='"Liberation Sans", Arial, Helvetica, sans-serif' font-size="12.5" fill="#000">
<text x="1779.5" y="572.27" text-anchor="end">0</text>
<text x="1779.5" y="531.62" text-anchor="end">50</text>
<text x="1779.5" y="490.95" text-anchor="end">100</text>
<text x="1779.5" y="450.30" text-anchor="end">150</text>
<text x="1779.5" y="409.63" text-anchor="end">200</text>
<text x="1779.5" y="368.98" text-anchor="end">250</text>
<text x="1803.2" y="584.0" text-anchor="middle">0</text>
<text x="1830.3" y="584.0" text-anchor="middle">1</text>
<text x="1857.4" y="584.0" text-anchor="middle">2</text>
<text x="1884.5" y="584.0" text-anchor="middle">4</text>
<text x="1911.6" y="584.0" text-anchor="middle">8</text>
<text x="1938.7" y="584.0" text-anchor="middle">12</text>
</g>
<path d="M1801.1 487.6V374.8H1936.6V381.1" fill="none" stroke="#4a4a4a" stroke-width="0.95"/>
<text x="1868.8" y="374.94" text-anchor="middle" font-family='"Liberation Sans", Arial, Helvetica, sans-serif' font-size="12">*</text>
<g fill="#0000ff" stroke="none">
<circle cx="1803.1" cy="498.0" r="3.6"/>
<circle cx="1803.1" cy="508.8" r="3.6"/>
<circle cx="1803.1" cy="541.4" r="3.6"/>
<rect x="1793.2" y="514.85" width="19.60" height="1.9"/>
</g>
<g fill="#ff0000" stroke="none">
<circle cx="1824.0" cy="520.1" r="3.6"/>
<circle cx="1836.0" cy="521.2" r="3.6"/>
<circle cx="1829.9" cy="528.4" r="3.6"/>
<rect x="1820.1" y="522.45" width="19.60" height="1.9"/>
</g>
<g fill="#00c000" stroke="none">
<circle cx="1857.0" cy="504.7" r="3.6"/>
<circle cx="1863.3" cy="515.5" r="3.6"/>
<circle cx="1851.0" cy="518.5" r="3.6"/>
<rect x="1847.2" y="511.65" width="19.50" height="1.9"/>
</g>
<g fill="#a800e0" stroke="none">
<circle cx="1878.2" cy="468.1" r="3.6"/>
<circle cx="1890.5" cy="472.3" r="3.6"/>
<circle cx="1878.2" cy="477.4" r="3.6"/>
<rect x="1874.0" y="471.65" width="19.20" height="1.9"/>
</g>
<g fill="#ff8000" stroke="none">
<circle cx="1911.2" cy="450.9" r="3.6"/>
<circle cx="1911.2" cy="474.1" r="3.6"/>
<circle cx="1911.2" cy="492.9" r="3.6"/>
<rect x="1901.1" y="471.65" width="20.00" height="1.9"/>
</g>
<g fill="#000000" stroke="none">
<circle cx="1938.1" cy="395.6" r="3.6"/>
<circle cx="1938.1" cy="432.2" r="3.6"/>
<circle cx="1938.1" cy="449.4" r="3.6"/>
<rect x="1928.4" y="424.65" width="19.80" height="1.9"/>
</g>
</g>
<text transform="translate(1398.4,550.4) rotate(-90) scale(1.01,1)" font-family='"Liberation Sans", Arial, Helvetica, sans-serif' font-size="35.6">Normalized Intensity</text>
<text transform="translate(1651.6,639.9) scale(0.93,1)" font-family='"Liberation Sans", Arial, Helvetica, sans-serif' font-size="36">Dose (Gy)</text>
</g>
</svg></body></html>
